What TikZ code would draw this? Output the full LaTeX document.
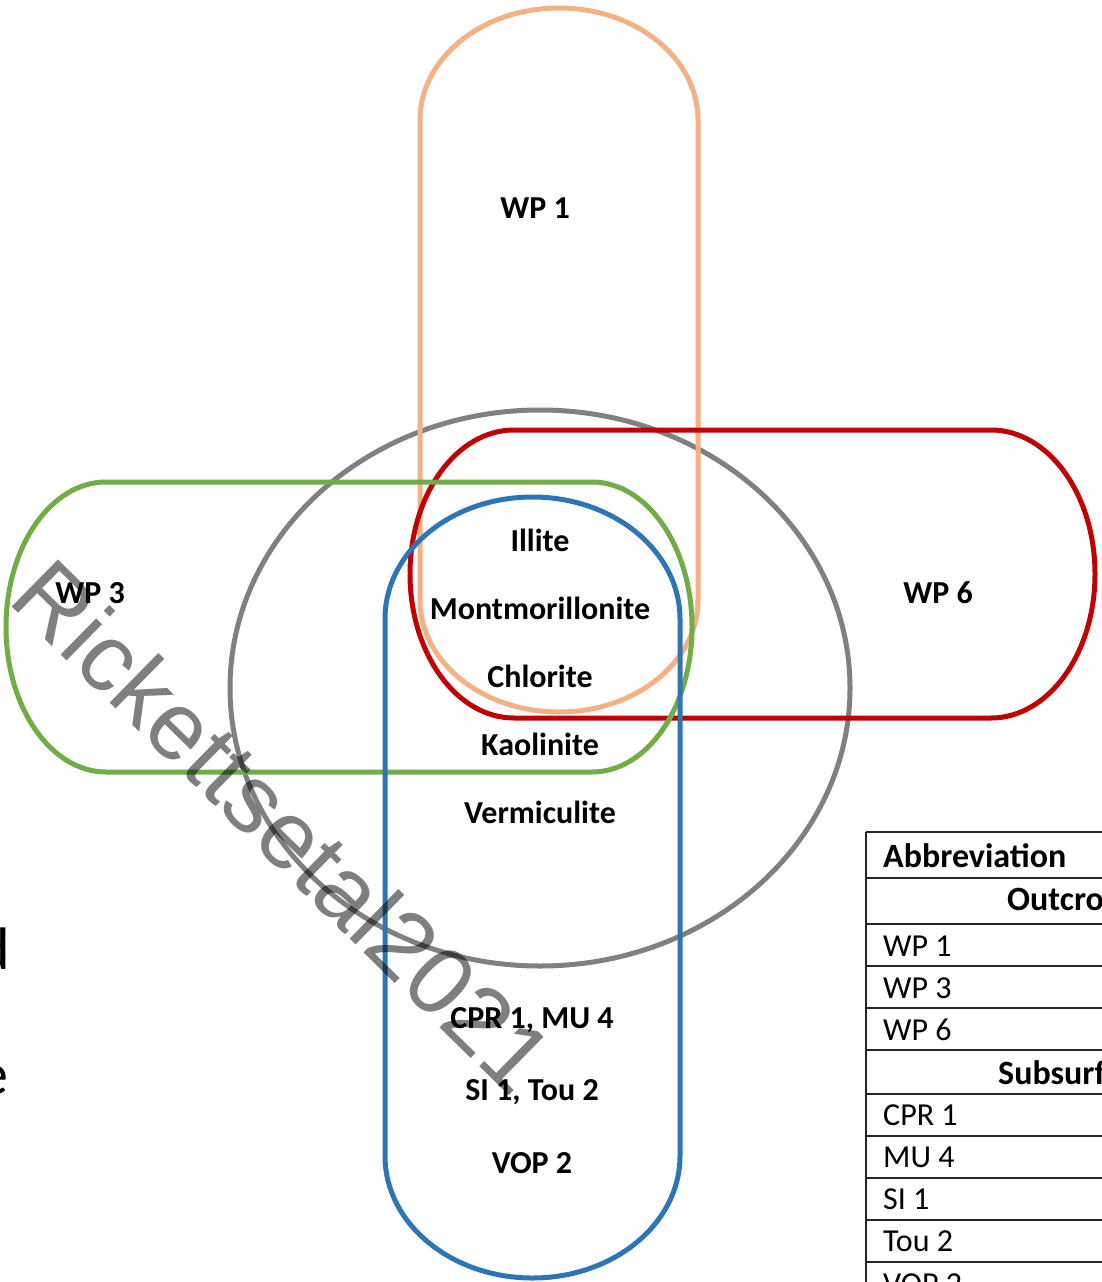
\documentclass[tikz,border=0pt]{standalone}
\usepackage{fontspec}
\setmainfont{Carlito}
\newfontfamily\wmfont{Liberation Sans}
\definecolor{cOrange}{HTML}{F4B183}
\definecolor{cRed}{HTML}{C00000}
\definecolor{cGreen}{HTML}{70AD47}
\definecolor{cBlue}{HTML}{2E75B6}
\definecolor{cGray}{HTML}{808080}
% rounded rectangle with elliptical corners: colour, x1, y1, x2, y2, rx, ry
\newcommand\eroundrect[7]{%
 \draw[ring,#1] ({#2+#6},#3) -- ({#4-#6},#3)
   .. controls ({#4-#6+0.5523*#6},#3) and (#4,{#3+#7-0.5523*#7}) .. (#4,{#3+#7})
   -- (#4,{#5-#7})
   .. controls (#4,{#5-#7+0.5523*#7}) and ({#4-#6+0.5523*#6},#5) .. ({#4-#6},#5)
   -- ({#2+#6},#5)
   .. controls ({#2+#6-0.5523*#6},#5) and (#2,{#5-#7+0.5523*#7}) .. (#2,{#5-#7})
   -- (#2,{#3+#7})
   .. controls (#2,{#3+#7-0.5523*#7}) and ({#2+#6-0.5523*#6},#3) .. ({#2+#6},#3)
   -- cycle;}
\begin{document}
\begin{tikzpicture}[x=1pt,y=-1pt,
  ring/.style={line width=5pt},
  lbl/.style={font=\fontsize{32}{38}\selectfont\bfseries, inner sep=0pt},
  tbl/.style={font=\fontsize{32}{38}\selectfont, inner sep=0pt, anchor=west},
  tblb/.style={font=\fontsize{34}{40}\selectfont\bfseries, inner sep=0pt, anchor=west},
  rule/.style={line width=1.6pt, draw=black!85}]
\useasboundingbox (0,0) rectangle (1102,1282);
\clip (0,0) rectangle (1102,1282);
\fill[white] (0,0) rectangle (1102,1282);
% sets
\draw[ring, cGray] (540,688) ellipse [x radius=310, y radius=278];
\eroundrect{cOrange}{420}{8}{698}{712}{139}{112}
\eroundrect{cRed}{410}{430}{1095}{718}{104}{144}
\eroundrect{cGreen}{6}{482}{692}{772}{100}{145}
\eroundrect{cBlue}{385}{497}{680}{1278}{147.5}{122}
% labels
\node[lbl] (wp1) at (535,208) {WP 1};
\node[lbl] (wp3) at (90,593) {WP 3};
\node[lbl] (wp6) at (938,593) {WP 6};
\node[lbl] (ill) at (540,540) {Illite};
\node[lbl] (mon) at (540,608) {Montmorillonite};
\node[lbl] (chl) at (540,676) {Chlorite};
\node[lbl] (kao) at (540,744) {Kaolinite};
\node[lbl] (ver) at (540,812) {Vermiculite};
\node[lbl] (cpr) at (532,1020) {CPR 1, MU 4};
\node[lbl] (si) at (532,1092) {SI 1, Tou 2};
\node[lbl] (vop) at (532,1163) {VOP 2};
% table
\draw[rule] (866,832) -- (866,1282);
\foreach \yy in {832,878,924,966,1008,1050,1094,1136,1178,1220,1262}
  \draw[rule] (866,\yy) -- (1102,\yy);
\node[tblb] (tAbb) at (883,856) {Abbreviation};
\node[tblb] (tOut) at (1007,902) {Outcrop};
\node[tbl] (tWP1) at (883,946) {WP 1};
\node[tbl] (tWP3) at (883,988) {WP 3};
\node[tbl] (tWP6) at (883,1030) {WP 6};
\node[tblb] (tSub) at (998,1073) {Subsurface};
\node[tbl] (tCPR) at (883,1115) {CPR 1};
\node[tbl] (tMU) at (883,1157) {MU 4};
\node[tbl] (tSI) at (883,1199) {SI 1};
\node[tbl] (tTou) at (883,1241) {Tou 2};
\node[tbl] (tVOP) at (883,1284) {VOP 2};
% cut-off text at left edge
\node[font=\fontsize{60}{70}\selectfont, inner sep=0pt, anchor=base east] (fd) at (10,969) {d};
\node[font=\fontsize{60}{70}\selectfont, inner sep=0pt, anchor=base east] (fe) at (9,1094) {e};
% watermark
\node[font=\wmfont\fontsize{96}{106}\selectfont, text=black, text opacity=0.5, rotate=-44.5, inner sep=0pt] (wm) at (284,826) {Rickettsetal2021};
\end{tikzpicture}
\end{document}
